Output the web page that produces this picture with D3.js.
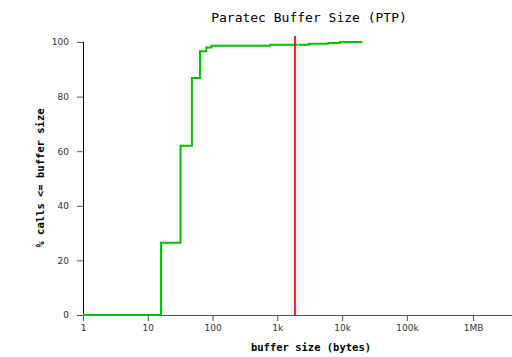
<!DOCTYPE html>
<html>
<head>
<meta charset="utf-8">
<script src="https://cdn.jsdelivr.net/npm/d3@7.9.0/dist/d3.min.js"></script>
<style>
  body { margin: 0; background: #fff; }
  svg { display: block; }
  .tick text { font-family: "DejaVu Sans", sans-serif; font-size: 9px; fill: #333; }
</style>
</head>
<body>
<svg id="chart" width="512" height="357"></svg>
<script>
// cumulative % of calls at or below each buffer size (bytes)
const bufferSizes = [1, 16, 32, 48, 64, 80, 96, 768, 3072, 6144, 9216, 20480];
const pctCalls = [0, 26.5, 62, 86.8, 96.6, 98, 98.6, 99.0, 99.4, 99.6, 100, 100];
const markerSize = 1870;
const xTickValues = [1, 10, 100, 1000, 10000, 100000, 1048576];
const xTickLabels = ['1', '10', '100', '1k', '10k', '100k', '1MB'];
const yTickValues = [0, 20, 40, 60, 80, 100];

const svg = d3.select('#chart');

const x = d3.scaleLog().domain([1, 4194304]).range([83, 512]);
const y = d3.scaleLinear().domain([0, 100]).range([315, 42]);

// x axis
const xAxis = svg.append('g')
  .attr('transform', `translate(0,${y(0)})`)
  .call(d3.axisBottom(x)
    .tickValues(xTickValues)
    .tickFormat((d, i) => xTickLabels[i])
    .tickSize(6)
    .tickPadding(4));
xAxis.select('.domain').remove();
xAxis.selectAll('.tick line').attr('stroke', '#555');
svg.append('line')
  .attr('x1', 77).attr('x2', 512)
  .attr('y1', y(0) + 0.5).attr('y2', y(0) + 0.5)
  .attr('stroke', '#555');

// y axis
const yAxis = svg.append('g')
  .attr('transform', `translate(${x(1)},0)`)
  .call(d3.axisLeft(y)
    .tickValues(yTickValues)
    .tickSize(6)
    .tickPadding(8));
yAxis.select('.domain').remove();
yAxis.selectAll('.tick line').attr('stroke', '#555');
svg.append('line')
  .attr('x1', x(1) + 0.5).attr('x2', x(1) + 0.5)
  .attr('y1', y(100)).attr('y2', y(0))
  .attr('stroke', '#000');

// cumulative step line
const data = bufferSizes.map((s, i) => ({ size: s, pct: pctCalls[i] }));
const line = d3.line()
  .x(d => x(d.size))
  .y(d => y(d.pct))
  .curve(d3.curveStepAfter);

svg.append('path')
  .datum(data)
  .attr('d', line)
  .attr('fill', 'none')
  .attr('stroke', '#00c000')
  .attr('stroke-width', 2);

// marker line
svg.append('line')
  .attr('x1', x(markerSize) + 3).attr('x2', x(markerSize) + 3)
  .attr('y1', 37).attr('y2', y(0))
  .attr('stroke', '#ffd8d8')
  .attr('stroke-width', 1);
svg.append('line')
  .attr('x1', x(markerSize)).attr('x2', x(markerSize))
  .attr('y1', 36).attr('y2', y(0))
  .attr('stroke', '#ff2000')
  .attr('stroke-width', 2);

// titles
svg.append('text')
  .attr('x', 309).attr('y', 22)
  .attr('text-anchor', 'middle')
  .style('font-family', '"DejaVu Sans Mono", monospace')
  .style('font-size', '13px')
  .text('Paratec Buffer Size (PTP)');

svg.append('text')
  .attr('x', 311).attr('y', 351)
  .attr('text-anchor', 'middle')
  .style('font-family', '"DejaVu Sans Mono", monospace')
  .style('font-size', '10.5px')
  .style('font-weight', 'bold')
  .text('buffer size (bytes)');

svg.append('text')
  .attr('transform', 'translate(44,178) rotate(-90)')
  .attr('text-anchor', 'middle')
  .style('font-family', '"DejaVu Sans Mono", monospace')
  .style('font-size', '10.5px')
  .style('font-weight', 'bold')
  .text('% calls <= buffer size');
</script>
</body>
</html>
